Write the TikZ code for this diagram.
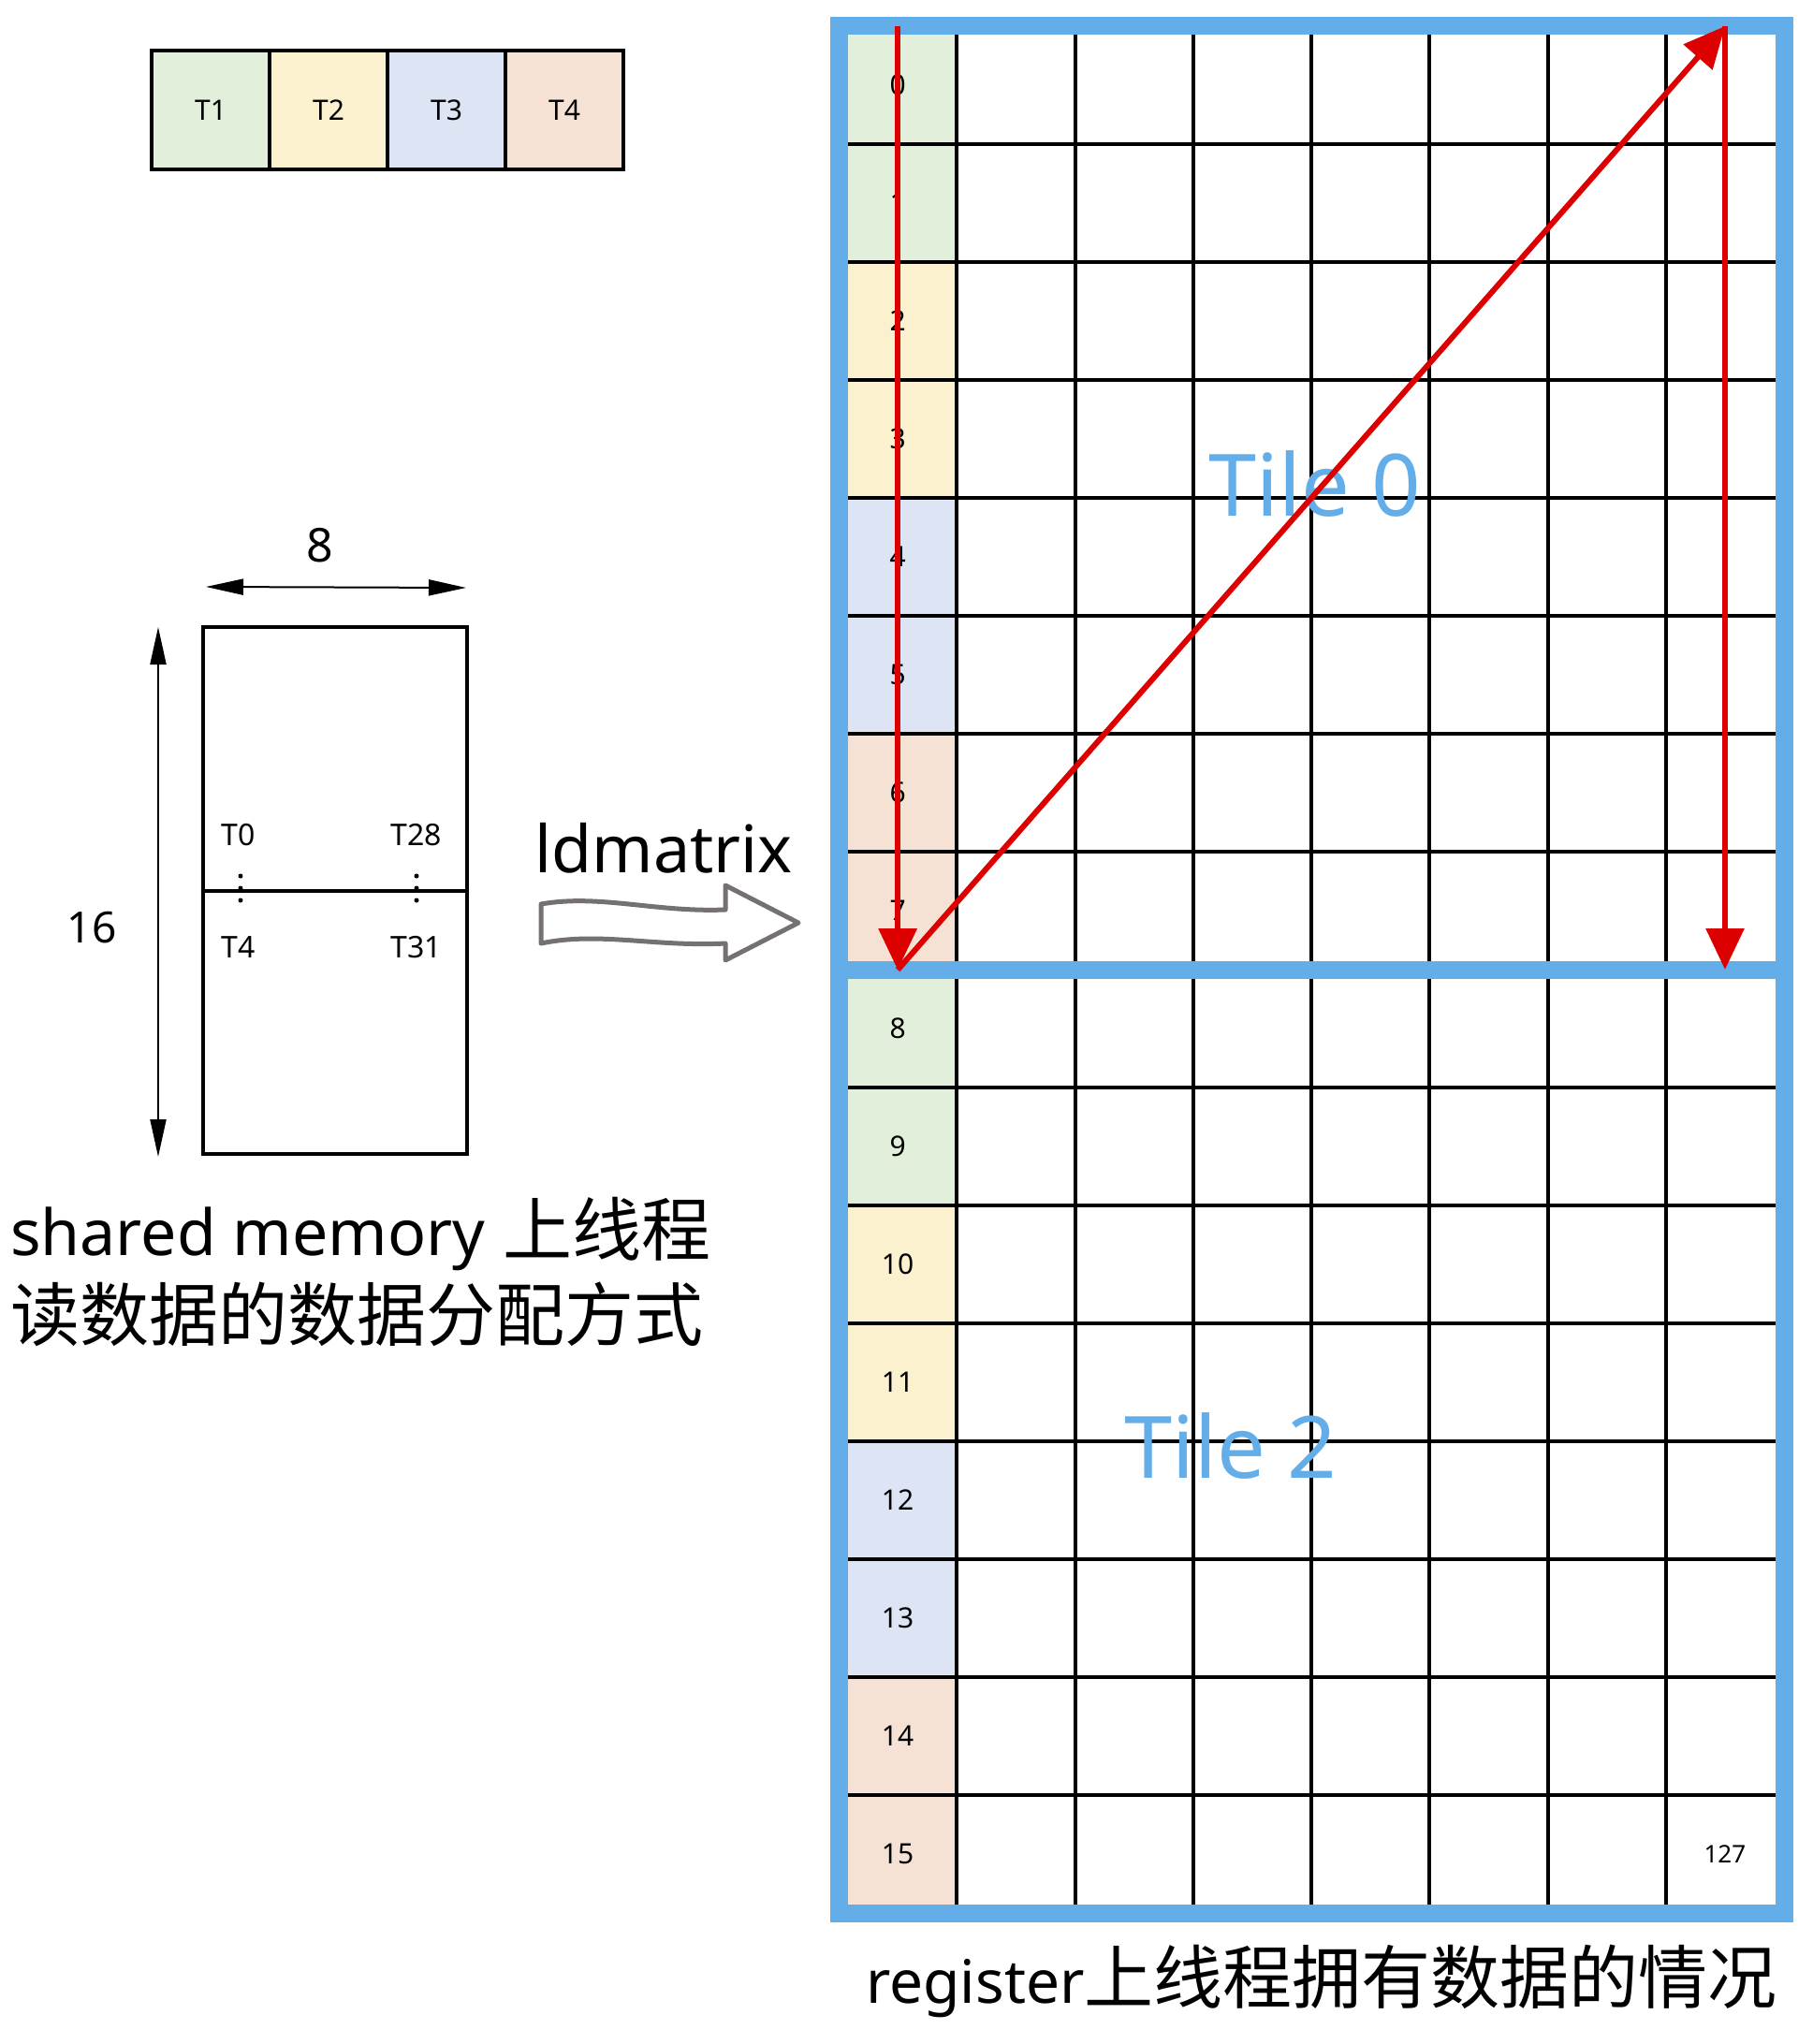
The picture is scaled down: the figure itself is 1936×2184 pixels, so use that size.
\documentclass[tikz,border=0pt]{standalone}
\usepackage{fontspec}
\setmainfont{Noto Sans}
\newfontfamily\cjk{Noto Sans CJK SC}
\usetikzlibrary{arrows.meta}

\definecolor{tgreen}{HTML}{E2EFDA}
\definecolor{tyellow}{HTML}{FBF1CE}
\definecolor{tblue}{HTML}{DDE4F3}
\definecolor{tpeach}{HTML}{F5E2D5}
\definecolor{frameblue}{HTML}{63ADE9}
\definecolor{arrowred}{HTML}{DD0000}
\definecolor{arrowgrey}{HTML}{767171}

\begin{document}
\begin{tikzpicture}[x=1pt, y=-1pt,
  tbox/.style={draw=black, line width=3.5pt, minimum width=126pt, minimum height=127pt, inner sep=0pt, font=\fontsize{30}{32}\selectfont},
  cellbox/.style={minimum width=126.25pt, minimum height=126pt, inner sep=0pt, font=\fontsize{30}{32}\selectfont},
  smbox/.style={draw=black, line width=3.5pt, minimum width=282pt, inner sep=0pt},
  dimarrow/.style={line width=2pt, {Triangle[length=40pt,width=17pt]}-{Triangle[length=40pt,width=17pt]}},
  redarrow/.style={draw=arrowred, line width=6pt, -{Triangle[length=44pt,width=40pt]}},
  gridline/.style={draw=black, line width=4pt},
  tid/.style={font=\fontsize{32}{34}\selectfont},
  tilelbl/.style={text=frameblue, font=\fontsize{92}{96}\selectfont},
  capt/.style={font=\fontsize{74}{80}\selectfont, inner sep=0pt}]
  \useasboundingbox (0,0) rectangle (1936,2184);

  \node[tbox, fill=tgreen]  (t1) at (225,117.5) {T1};
  \node[tbox, fill=tyellow] (t2) at (351,117.5) {T2};
  \node[tbox, fill=tblue]   (t3) at (477,117.5) {T3};
  \node[tbox, fill=tpeach]  (t4) at (603,117.5) {T4};

  \node[smbox, minimum height=282pt] (smtop) at (358,811) {};
  \node[smbox, minimum height=281pt] (smbot) at (358,1092.5) {};

  \coordinate (wl) at (220,627);
  \coordinate (wr) at (498,628);
  \coordinate (ht) at (169,670);
  \coordinate (hb) at (169,1236);
  \draw[dimarrow] (wl) -- (wr);
  \draw[dimarrow] (ht) -- (hb);
  \node[font=\fontsize{50}{54}\selectfont] (lbl8) at (342,583) {8};
  \node[font=\fontsize{46}{50}\selectfont] (lbl16) at (98,991) {16};

  \node[tid] (th0)  at (255,892)  {T0};
  \node[tid] (th28) at (445,892)  {T28};
  \node[tid] (th4)  at (255,1012) {T4};
  \node[tid] (th31) at (445,1012) {T31};
  \foreach \y in {936,949,962} {
    \fill (257,\y) circle (2.5pt);
    \fill (445,\y) circle (2.5pt);
  }

  \node[font=\fontsize{70}{74}\selectfont] (ldm) at (709,906) {ldmatrix};
  \draw[draw=arrowgrey, line width=5pt, fill=white, line join=round]
    (578,966) .. controls (640,955) and (700,975) .. (775,972)
    -- (775,946) -- (853,986) -- (775,1026) -- (775,1008)
    .. controls (700,1012) and (640,995) .. (578,1008) -- cycle;

  \node[capt, anchor=west] (smcap1) at (11,1318) {{\fontsize{68}{72}\selectfont shared memory} {\cjk 上线程}};
  \node[capt, anchor=west] (smcap2) at (11,1404) {\cjk 读数据的数据分配方式};

  \foreach \j/\c in {0/tgreen,1/tgreen,2/tyellow,3/tyellow,4/tblue,5/tblue,6/tpeach,7/tpeach,
                     8/tgreen,9/tgreen,10/tyellow,11/tyellow,12/tblue,13/tblue,14/tpeach,15/tpeach}
    \node[cellbox, fill=\c] (c\j) at (959.125,{91+126*\j}) {\j};
  \node[cellbox, font=\fontsize{26}{28}\selectfont] (c127) at (1842.9,1981) {127};

  \foreach \i in {1,...,7}
    \draw[gridline] ({896+126.25*\i},28) -- ({896+126.25*\i},2044);
  \foreach \j in {1,...,15}
    \draw[gridline] (896,{28+126*\j}) -- (1906,{28+126*\j});
  \draw[draw=frameblue, line width=19pt] (896,28) rectangle (1906,2044);
  \draw[draw=frameblue, line width=19pt] (896,1036) -- (1906,1036);

  \node[tilelbl] (tile0) at (1405,517) {Tile 0};
  \node[tilelbl] (tile2) at (1315,1545) {Tile 2};

  \coordinate (tr) at (1843,28);
  \coordinate (mr) at (1843,1036);
  \draw[redarrow] (c0.north) -- (c7.south);
  \draw[redarrow] (c7.south) -- (tr);
  \draw[redarrow] (tr) -- (mr);

  \node[capt] (regcap) at (1412,2117) {{\fontsize{64}{70}\selectfont register}{\cjk 上线程拥有数据的情况}};
\end{tikzpicture}
\end{document}
